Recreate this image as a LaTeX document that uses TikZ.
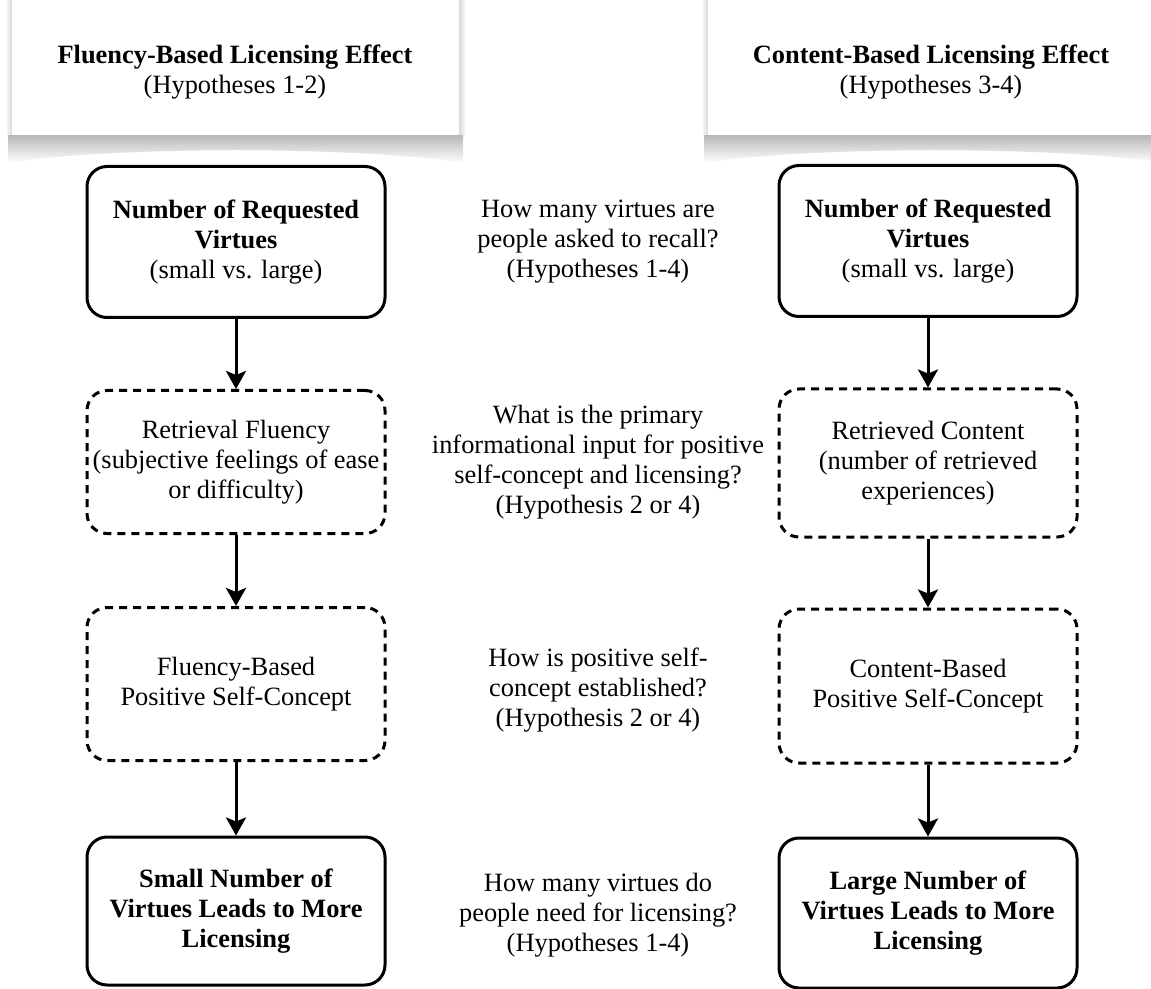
\documentclass[tikz,border=0pt]{standalone}
\usepackage{fontspec}
\setmainfont{Liberation Serif}
\usepackage{tikz}
\usetikzlibrary{arrows.meta,positioning,shapes.geometric}

\begin{document}
\begin{tikzpicture}[x=0.5pt,y=-0.5pt,
  every node/.style={font=\fontsize{13.2}{15}\selectfont,align=center},
  solidbox/.style={draw=black,line width=1.5pt,rounded corners=10pt,
    minimum width=149pt,minimum height=75.5pt,inner sep=0pt},
  dashbox/.style={solidbox,dash pattern=on 4pt off 3pt},
  flow/.style={line width=1.5pt,-{Stealth[width=10pt,length=9pt,inset=2pt]}}]
\useasboundingbox (0,0) rectangle (1151,989);

% header cards with a curled shadow
\foreach \a/\b in {12/459,708/1160} {
  \shade[top color=gray!60,bottom color=white] (\a-4,133) -- (\b+4,133) -- (\b+4,163)
    .. controls (\b-100,146) and (\a+100,146) .. (\a-4,163) -- cycle;
  \shade[left color=white,right color=gray!30] (\a-7,0) rectangle (\a,135);
  \shade[left color=gray!30,right color=white] (\b,0) rectangle (\b+7,135);
  \fill[white] (\a,0) rectangle (\b,135);
}
\node (lhead) at (235,72) {\textbf{Fluency-Based Licensing Effect}\\(Hypotheses 1-2)};
\node (rhead) at (931,72) {\textbf{Content-Based Licensing Effect}\\(Hypotheses 3-4)};

% left column
\node[solidbox] (lnum) at (236,242) {\textbf{Number of Requested}\\\textbf{Virtues}\\(small vs. large)};
\node[dashbox,minimum height=71.5pt] (lret) at (236,462) {Retrieval Fluency\\(subjective feelings of ease\\or difficulty)};
\node[dashbox,minimum height=76.5pt] (lself) at (236,684) {Fluency-Based\\Positive Self-Concept};
\node[solidbox,minimum height=74pt] (lout) at (236,911) {\textbf{Small Number of}\\\textbf{Virtues Leads to More}\\\textbf{Licensing}};

% right column
\node[solidbox] (rnum) at (928,241) {\textbf{Number of Requested}\\\textbf{Virtues}\\(small vs. large)};
\node[dashbox,minimum height=74pt] (rret) at (928,463) {Retrieved Content\\(number of retrieved\\experiences)};
\node[dashbox,minimum height=77pt] (rself) at (928,686) {Content-Based\\Positive Self-Concept};
\node[solidbox,minimum height=75pt] (rout) at (928,913) {\textbf{Large Number of}\\\textbf{Virtues Leads to More}\\\textbf{Licensing}};

% questions in the middle
\node (q1) at (598,242) {How many virtues are\\people asked to recall?\\(Hypotheses 1-4)};
\node (q2) at (598,462) {What is the primary\\informational input for positive\\self-concept and licensing?\\(Hypothesis 2 or 4)};
\node (q3) at (598,690) {How is positive self-\\concept established?\\(Hypothesis 2 or 4)};
\node (q4) at (598,915) {How many virtues do\\people need for licensing?\\(Hypotheses 1-4)};

\foreach \u/\v in {lnum/lret,lret/lself,lself/lout,rnum/rret,rret/rself,rself/rout}
  \draw[flow] (\u) -- (\v);
\end{tikzpicture}
\end{document}
